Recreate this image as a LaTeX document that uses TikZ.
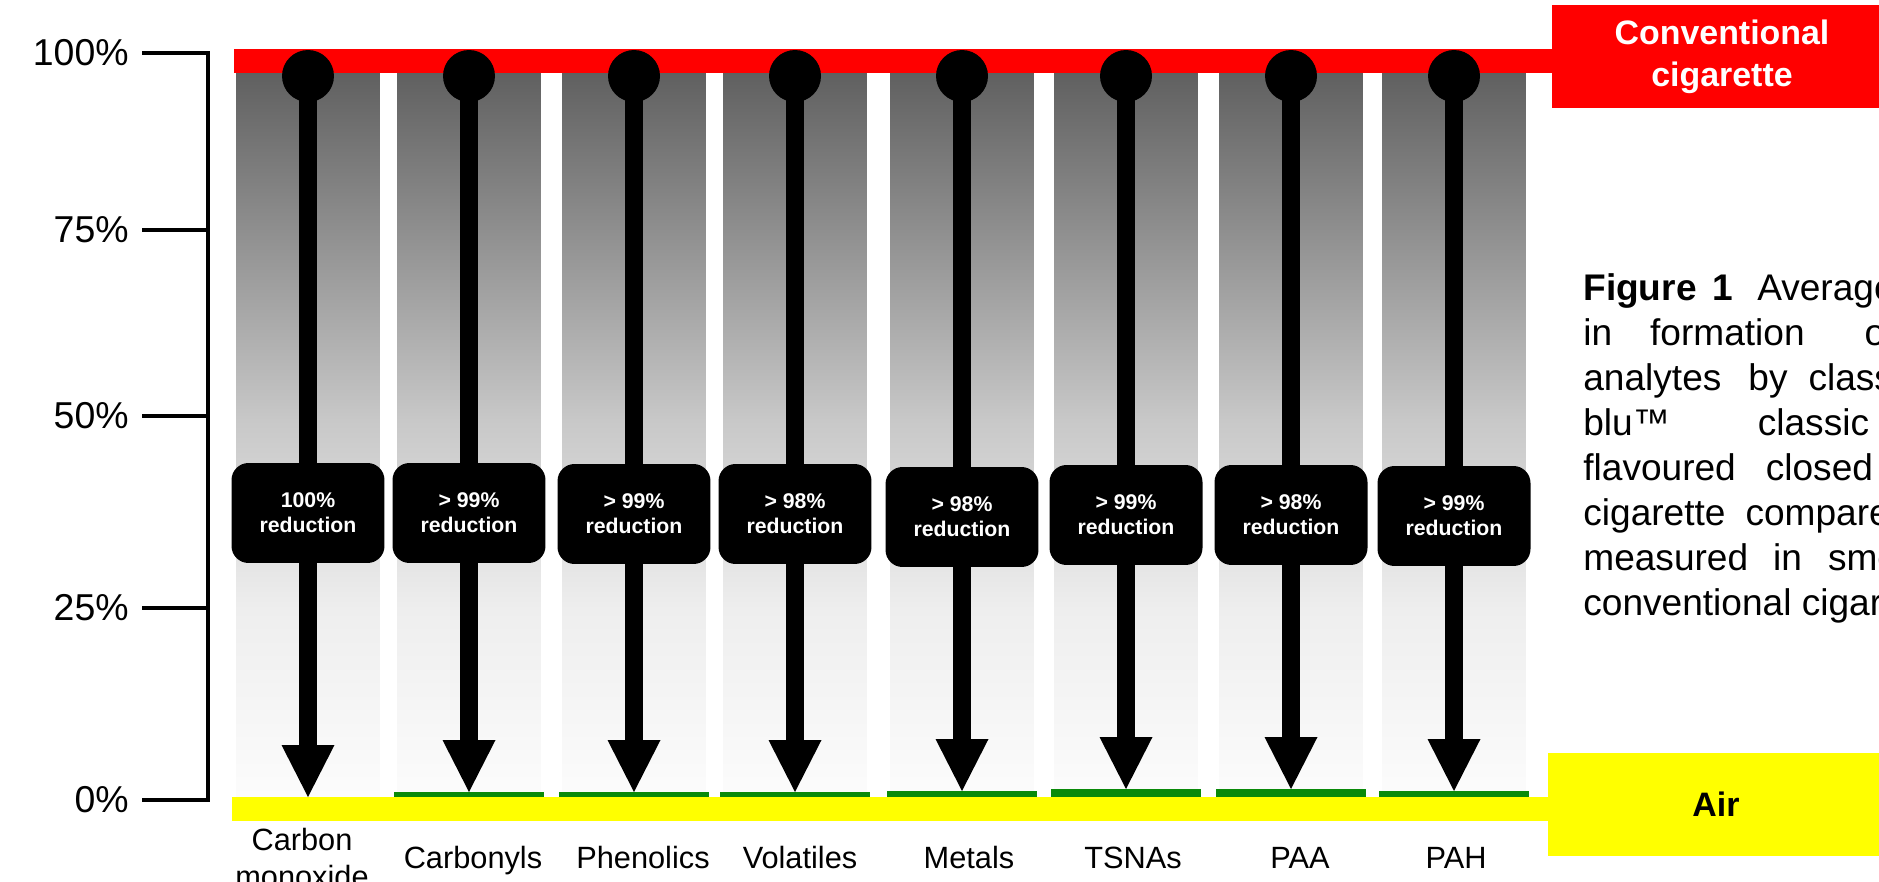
\documentclass[tikz,border=0pt]{standalone}
\usepackage{fontspec}
\setmainfont{Liberation Sans}
\usetikzlibrary{arrows.meta,positioning}
\definecolor{cRed}{HTML}{FF0000}
\definecolor{cYel}{HTML}{FFFF00}
\definecolor{cGrn}{HTML}{0A8A0A}
\definecolor{gA}{RGB}{96,96,96}
\definecolor{gB}{RGB}{165,165,165}
\definecolor{gC}{RGB}{200,200,200}
\definecolor{gD}{RGB}{238,238,238}
\definecolor{gE}{RGB}{252,252,252}
\pgfdeclareverticalshading{colfade}{100bp}{color(0bp)=(gE); color(25bp)=(gE);
  color(38bp)=(gD); color(51bp)=(gC); color(59bp)=(gB); color(75bp)=(gA);
  color(100bp)=(gA)}
\tikzset{
  bar/.style={shading=colfade},
  knob/.style={circle,fill=black,inner sep=0pt,minimum size=1.04cm},
  drop/.style={line width=0.36cm,
               -{Triangle[length=1.04cm,width=1.06cm,line width=0pt]}},
  tag/.style={rounded corners=0.34cm,fill=black,text=white,
              minimum width=3.06cm,minimum height=2cm,align=center,
              font=\fontsize{12.1}{14.2}\selectfont\bfseries},
  ticklab/.style={anchor=east,inner sep=0pt,font=\fontsize{21.3}{25}\selectfont},
  catlab/.style={inner sep=0pt,align=center,font=\fontsize{17.5}{21}\selectfont},
  endbox/.style={minimum height=2.06cm,align=center,inner sep=0pt,
                 font=\fontsize{19.3}{23.9}\selectfont\bfseries},
  capline/.style={anchor=base west,inner sep=0pt,
                  font=\fontsize{21.1}{25.6}\selectfont},
  axisline/.style={line width=0.08cm},
}

\begin{document}
\begin{tikzpicture}[x=0.02cm,y=-0.02cm]
  \useasboundingbox[fill=white] (0,0) rectangle (1879,882);
  % shaded columns
  \foreach \c in {308,469,634,795,962,1126,1291,1454}
    \shade[bar] (\c-71.5,73) rectangle (\c+71.5,797);
  \fill[cRed] (234,49) rectangle (1560,73);
  \fill[cYel] (232,797) rectangle (1556,821);
  % one arrow per class
  \foreach \c/\t/\by/\p [count=\i] in {308/797/513/{100\%},
      469/792/513/{> 99\%},634/792/514/{> 99\%},795/792/514/{> 98\%},
      962/791/517/{> 98\%},1126/789/515/{> 99\%},1291/789/515/{> 98\%},
      1454/791/516/{> 99\%}}{
    \ifnum\i>1 \fill[cGrn] (\c-75,\t) rectangle (\c+75,797); \fi
    \node[knob] (d\i) at (\c,76) {};
    \coordinate (t\i) at (\c,\t);
    \draw[drop] (d\i.center) -- (t\i);
    \node[tag] (r\i) at (\c,\by) {\p\\reduction};
  }
  % axis
  \draw[axisline] (142,53) -- (208,53) -- (208,800) -- (142,800);
  \foreach \y in {230,416,608} \draw[axisline] (142,\y) -- (208,\y);
  \foreach \y/\v [count=\k] in {53/100,230/75,416/50,608/25,800/0}
    \node[ticklab] (y\k) at (129,\y) {\v\%};
  % class names
  \node[catlab] (l1) at (302,858) {Carbon\\monoxide};
  \foreach \x/\n [count=\k from 2] in {473/Carbonyls,643/Phenolics,
      800/Volatiles,969/Metals,1133/TSNAs,1300/PAA,1456/PAH}
    \node[catlab,anchor=base] (l\k) at (\x,868) {\n};
  % end labels
  \node[endbox,fill=cRed,text=white,minimum width=6.8cm] (conv)
     at (1722,56.5) {Conventional\\cigarette};
  \node[endbox,fill=cYel,minimum width=6.72cm] (air) at (1716,804.5) {Air};
  % caption
  \foreach \t [count=\k] in {{\textbf{Figure\hspace{0.32cm}1}\hspace{0.48cm}Average},
      {in\hspace{0.76cm}formation\hspace{1.2cm}of},
      {analytes\hspace{0.54cm}by\hspace{0.42cm}class},
      {blu™\hspace{1.76cm}classic},
      {flavoured\hspace{0.6cm}closed},
      {cigarette\hspace{0.4cm}compared},
      {measured\hspace{0.5cm}in\hspace{0.52cm}smoke},
      {conventional cigarette}}
    \node[capline] (cap\k) at (1583,255+45*\k) {\t};
\end{tikzpicture}
\end{document}
